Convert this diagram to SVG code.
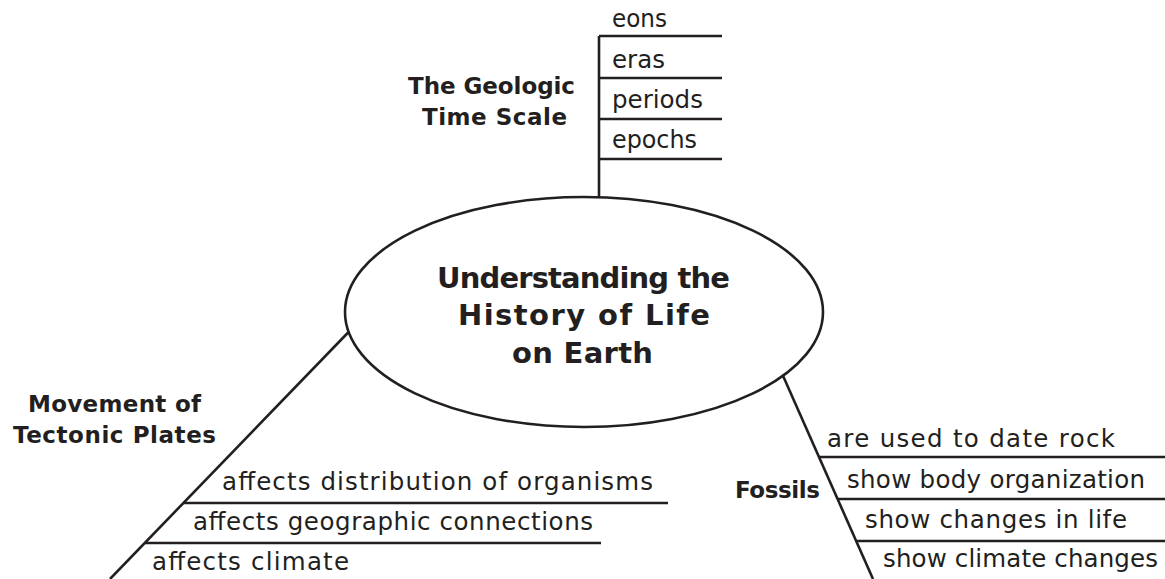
<svg xmlns="http://www.w3.org/2000/svg" width="1165" height="579" viewBox="0 0 1165 579">
<style>
.ln{stroke:#231f20;stroke-width:2.6;fill:none}
.t{font-family:"DejaVu Sans","Liberation Sans",sans-serif;font-size:24.5px;fill:#231f20}
.b{font-family:"DejaVu Sans","Liberation Sans",sans-serif;font-size:23px;font-weight:bold;fill:#231f20}
.c{font-family:"DejaVu Sans","Liberation Sans",sans-serif;font-size:29px;font-weight:bold;fill:#231f20}
</style>
<rect width="1165" height="579" fill="#ffffff"/>
<g id="connectors">
<line class="ln" x1="599" y1="36" x2="599" y2="197.5"/>
<line class="ln" x1="348.6" y1="332" x2="110" y2="579"/>
<line class="ln" x1="783" y1="375.7" x2="873" y2="579"/>
</g>
<g id="center">
<ellipse class="ln" cx="584" cy="312" rx="239" ry="115"/>
<text class="c" x="437" y="288" textLength="293" lengthAdjust="spacing">Understanding the</text>
<text class="c" x="458" y="325" textLength="252" lengthAdjust="spacing">History of Life</text>
<text class="c" x="512" y="363" textLength="141" lengthAdjust="spacing">on Earth</text>
</g>
<g id="geologic">
<text class="b" x="408" y="94" textLength="167" lengthAdjust="spacing">The Geologic</text>
<text class="b" x="422" y="125" textLength="145" lengthAdjust="spacing">Time Scale</text>
<line class="ln" x1="599" y1="36" x2="722" y2="36"/>
<line class="ln" x1="599" y1="78" x2="722" y2="78"/>
<line class="ln" x1="599" y1="119" x2="722" y2="119"/>
<line class="ln" x1="599" y1="159" x2="722" y2="159"/>
<text class="t" x="612" y="27" textLength="55" lengthAdjust="spacingAndGlyphs">eons</text>
<text class="t" x="612" y="68" textLength="53" lengthAdjust="spacingAndGlyphs">eras</text>
<text class="t" x="612" y="108" textLength="91" lengthAdjust="spacingAndGlyphs">periods</text>
<text class="t" x="612" y="148" textLength="85" lengthAdjust="spacingAndGlyphs">epochs</text>
</g>
<g id="tectonic">
<text class="b" x="28" y="412" textLength="173" lengthAdjust="spacing">Movement of</text>
<text class="b" x="13" y="443" textLength="203" lengthAdjust="spacing">Tectonic Plates</text>
<line class="ln" x1="183" y1="503" x2="668" y2="503"/>
<line class="ln" x1="145" y1="543" x2="601" y2="543"/>
<text class="t" x="222" y="490" textLength="431" lengthAdjust="spacing">affects distribution of organisms</text>
<text class="t" x="193" y="530" textLength="400" lengthAdjust="spacing">affects geographic connections</text>
<text class="t" x="152" y="570" textLength="197" lengthAdjust="spacing">affects climate</text>
</g>
<g id="fossils">
<text class="b" x="735" y="498" textLength="85" lengthAdjust="spacing">Fossils</text>
<line class="ln" x1="819" y1="457" x2="1165" y2="457"/>
<line class="ln" x1="837" y1="499" x2="1165" y2="499"/>
<line class="ln" x1="856" y1="541" x2="1165" y2="541"/>
<text class="t" x="827" y="447" textLength="288" lengthAdjust="spacing">are used to date rock</text>
<text class="t" x="847" y="488" textLength="298" lengthAdjust="spacing">show body organization</text>
<text class="t" x="865" y="528" textLength="262" lengthAdjust="spacing">show changes in life</text>
<text class="t" x="883" y="567" textLength="275" lengthAdjust="spacing">show climate changes</text>
</g>
</svg>
